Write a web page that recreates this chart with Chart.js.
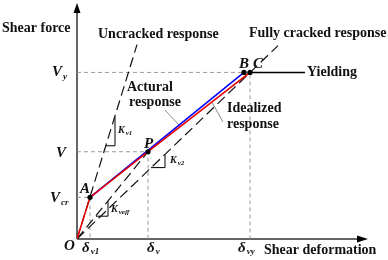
<!DOCTYPE html>
<html lang="en">

<head>
    <meta charset="UTF-8">
    <title>Shear force - deformation</title>
    <script src="https://cdn.jsdelivr.net/npm/chart.js"></script>
    <style>
        body {
            margin: 0;
            background: #fff;
        }

        canvas {
            display: block;
        }
    </style>
</head>

<body>
    <canvas id="shearChart" width="388" height="260"></canvas>

    <script>
        // key deformations: δv1, δv, δvy
        const deformTicks = [13, 71, 173];
        // key forces: Vcr, V, Vy
        const forceTicks = [42, 88, 168];

        const idealizedX = [0, 13, 71, 173];
        const idealizedY = [0, 42, 88, 168];
        const acturalX = [13, 167];
        const acturalY = [42, 168];
        const uncrackedX = [0, 60];
        const uncrackedY = [0, 196];
        const crackedX = [0, 201];
        const crackedY = [0, 195];
        const secantX = [0, 71];
        const secantY = [0, 88];
        const yieldingX = [173, 228];
        const yieldingY = [168, 168];
        const pointX = [13, 71, 167, 173];   // A, P, B, C
        const pointY = [42, 88, 168, 168];

        // slope triangles
        const triKv1X = [29, 38, 38];
        const triKv1Y = [94, 94, 123];
        const triKv2X = [74, 88, 88];
        const triKv2Y = [72, 72, 85];
        const triKeffX = [19, 31, 31];
        const triKeffY = [23, 23, 38];

        // leader lines to the labels
        const leadActX = [88, 102];
        const leadActY = [130, 115];
        const leadIdX = [146, 135];
        const leadIdY = [118, 138];

        const xy = (xs, ys) => xs.map((x, i) => ({ x: x, y: ys[i] }));

        const guideData = [];
        forceTicks.forEach((f, i) => {
            guideData.push({ x: 0, y: f }, { x: deformTicks[i], y: f }, { x: deformTicks[i], y: 0 }, { x: NaN, y: NaN });
        });

        const line = (data, color, width, dash) => ({
            data: data,
            showLine: true,
            borderColor: color,
            borderWidth: width,
            borderDash: dash || [],
            pointRadius: 0,
            spanGaps: false,
            fill: false
        });

        const datasets = [
            {
                data: xy(pointX, pointY),
                showLine: false,
                pointRadius: 2.6,
                pointBackgroundColor: '#000',
                pointBorderWidth: 0
            },
            line(xy(idealizedX, idealizedY), '#e60000', 1.6),
            line(xy(acturalX, acturalY), '#0000ff', 1.6),
            line(xy(yieldingX, yieldingY), '#000', 1.5),
            line(xy(uncrackedX, uncrackedY), '#111', 1.2, [10, 5]),
            line(xy(crackedX, crackedY), '#111', 1.2, [10, 5]),
            line(xy(secantX, secantY), '#111', 1.2, [10, 5]),
            line(xy(triKv1X, triKv1Y), '#000', 1),
            line(xy(triKv2X, triKv2Y), '#000', 1),
            line(xy(triKeffX, triKeffY), '#000', 1),
            line(xy(leadActX, leadActY), '#8a8a8a', 1),
            line(xy(leadIdX, leadIdY), '#8a8a8a', 1),
            line(guideData, '#9a9a9a', 1, [4, 3])
        ];

        const serif = '"Liberation Serif", "Times New Roman", serif';

        // [main, sub, x, y, style]
        const labels = [
            ['Shear force', '', -75, 212, 'word'],
            ['Uncracked response', '', 21, 206, 'word'],
            ['Fully cracked response', '', 172, 207, 'word'],
            ['Yielding', '', 230, 168, 'word'],
            ['Actural', '', 50, 153, 'word'],
            ['response', '', 52, 138, 'word'],
            ['Idealized', '', 150, 132, 'word'],
            ['response', '', 150, 116, 'word'],
            ['Shear deformation', '', 187, -11, 'word'],
            ['V', 'y', -25, 168, 'sym'],
            ['V', '', -21, 87, 'sym'],
            ['V', 'cr', -27, 41, 'sym'],
            ['A', '', 3, 50, 'sym'],
            ['P', '', 67, 96, 'sym'],
            ['B', '', 162, 176, 'sym'],
            ['C', '', 176, 176, 'sym'],
            ['O', '', -13, -7, 'sym'],
            ['\u03b4', 'v1', 5, -9, 'sym'],
            ['\u03b4', 'v', 70, -9, 'sym'],
            ['\u03b4', 'vy', 161, -9, 'sym'],
            ['K', 'v1', 41, 110, 'small'],
            ['K', 'v2', 93, 79, 'small'],
            ['K', 'veff', 34, 30, 'small']
        ];

        const fonts = {
            word: ['bold 14px ' + serif, ''],
            sym: ['italic bold 15px ' + serif, 'italic bold 9px ' + serif],
            small: ['italic bold 10px ' + serif, 'italic bold 7px ' + serif]
        };

        const drawingPlugin = {
            id: 'drawing',
            beforeDatasetsDraw(chart) {
                const ctx = chart.ctx;
                const xs = chart.scales.x, ys = chart.scales.y;
                const x0 = xs.getPixelForValue(0), y0 = ys.getPixelForValue(0);
                const xEnd = xs.getPixelForValue(xs.max) + 1;
                const yEnd = ys.getPixelForValue(ys.max) - 1;
                ctx.save();
                ctx.strokeStyle = '#333';
                ctx.fillStyle = '#000';
                ctx.lineWidth = 1.5;
                ctx.beginPath();
                ctx.moveTo(x0, y0);
                ctx.lineTo(x0, yEnd + 8);
                ctx.moveTo(x0, y0);
                ctx.lineTo(xEnd - 8, y0);
                ctx.stroke();
                ctx.beginPath();
                ctx.moveTo(x0, yEnd);
                ctx.lineTo(x0 - 3.5, yEnd + 10);
                ctx.lineTo(x0 + 3.5, yEnd + 10);
                ctx.closePath();
                ctx.fill();
                ctx.beginPath();
                ctx.moveTo(xEnd, y0);
                ctx.lineTo(xEnd - 11, y0 - 3.5);
                ctx.lineTo(xEnd - 11, y0 + 3.5);
                ctx.closePath();
                ctx.fill();
                ctx.restore();
            },
            afterDraw(chart) {
                const ctx = chart.ctx;
                const xs = chart.scales.x, ys = chart.scales.y;
                ctx.save();
                ctx.fillStyle = '#111';
                ctx.textBaseline = 'middle';
                ctx.textAlign = 'left';
                labels.forEach(([main, sub, x, y, style]) => {
                    const px = xs.getPixelForValue(x);
                    const py = ys.getPixelForValue(y);
                    ctx.font = fonts[style][0];
                    ctx.fillText(main, px, py);
                    if (sub) {
                        const w = ctx.measureText(main).width;
                        ctx.font = fonts[style][1];
                        ctx.fillText(sub, px + w + 1, py + (style === 'small' ? 3 : 4));
                    }
                });
                ctx.restore();
            }
        };

        new Chart(document.getElementById('shearChart'), {
            type: 'scatter',
            data: { datasets: datasets },
            options: {
                responsive: false,
                animation: false,
                layout: { padding: { left: 77, right: 21, top: 2, bottom: 21 } },
                plugins: {
                    legend: { display: false },
                    tooltip: { enabled: false }
                },
                scales: {
                    x: { type: 'linear', min: 0, max: 290, display: false },
                    y: { type: 'linear', min: 0, max: 237, display: false }
                }
            },
            plugins: [drawingPlugin]
        });
    </script>
</body>

</html>
